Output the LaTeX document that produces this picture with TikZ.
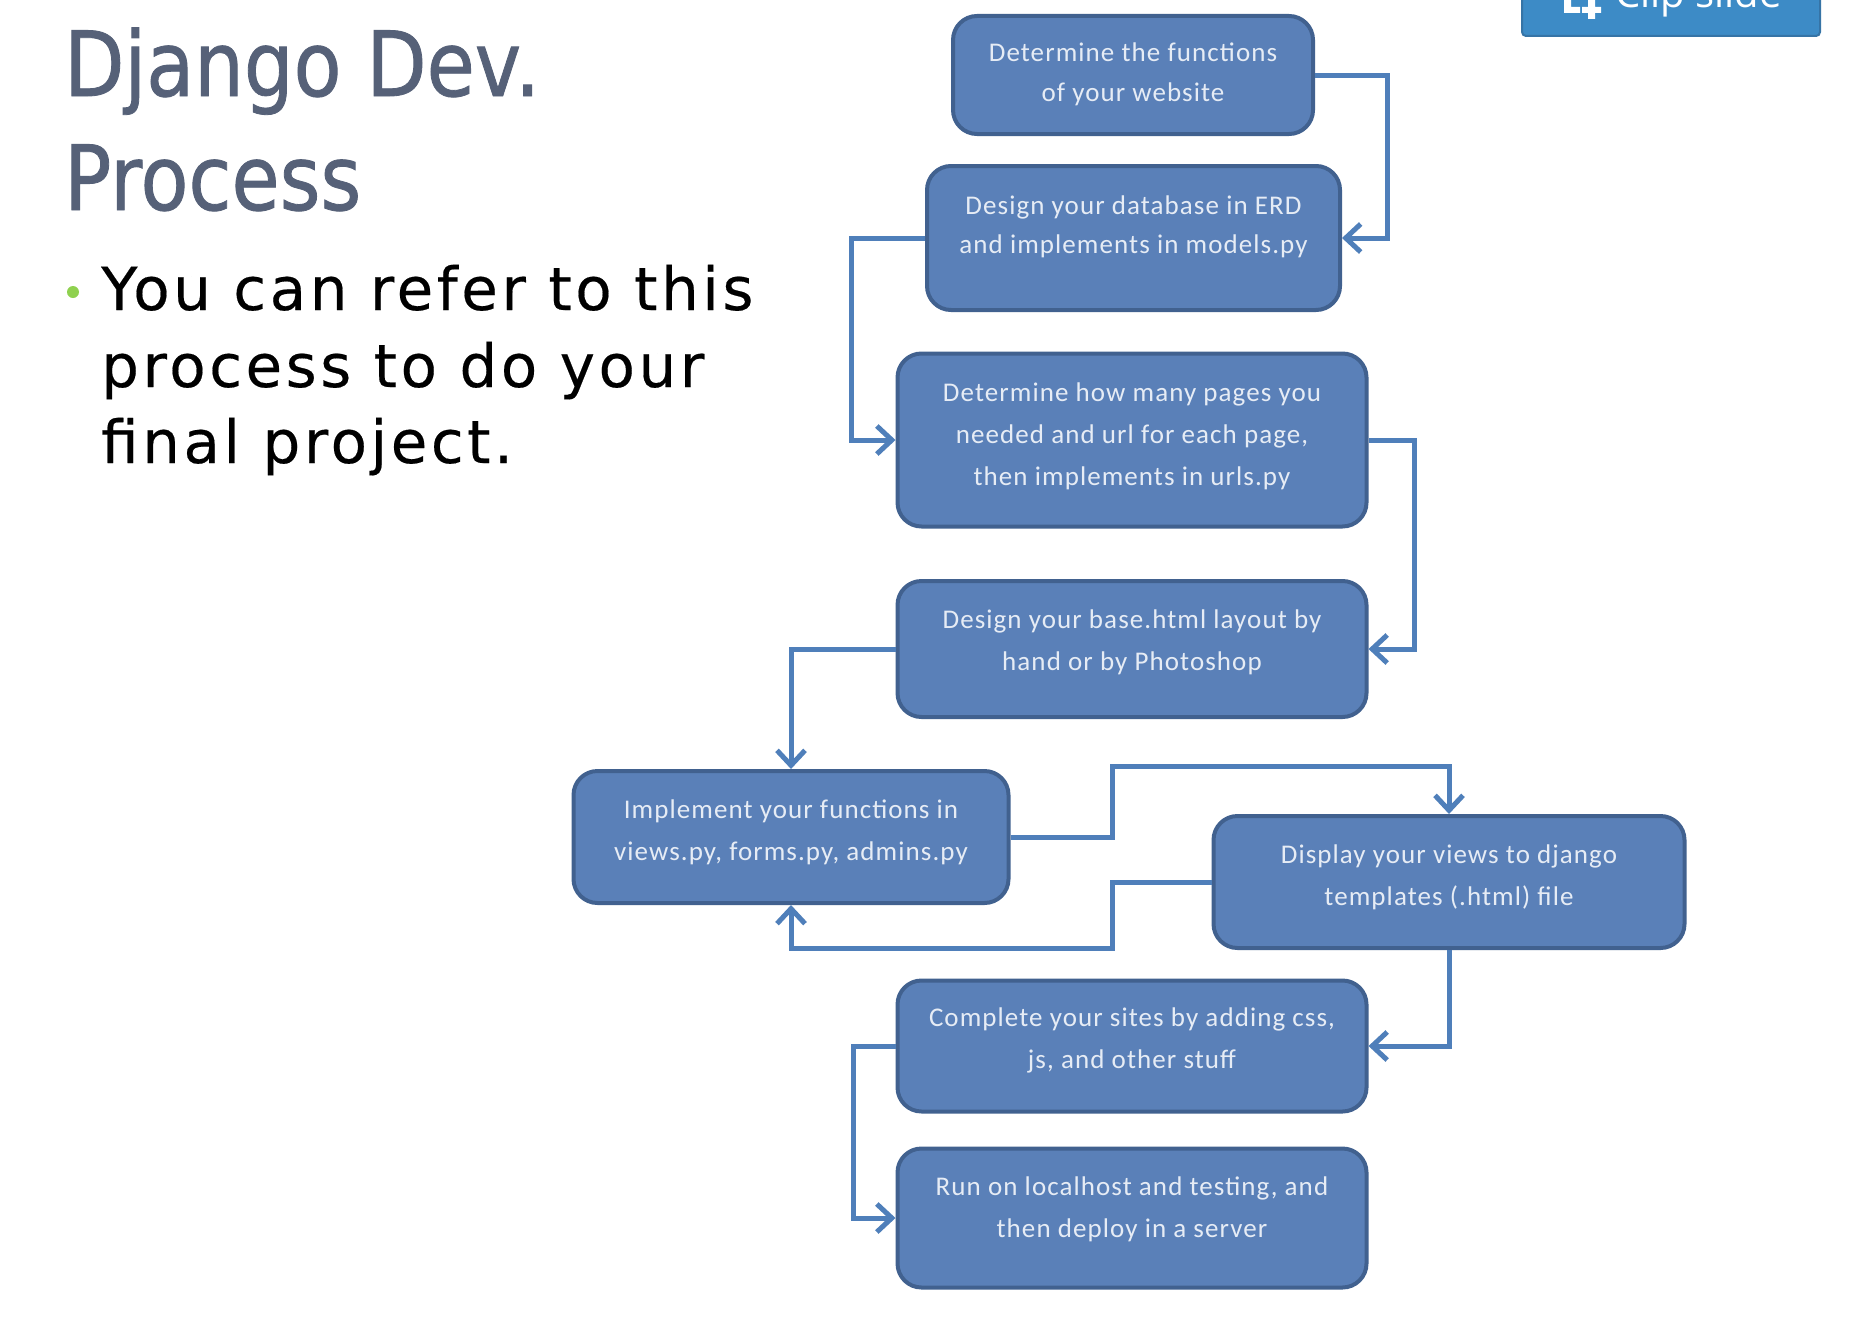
\documentclass[tikz,border=0pt]{standalone}
\usepackage{fontspec}
\setmainfont{Carlito}
\newfontfamily\titlefont[FakeStretch=0.87,FakeBold=0.9]{DejaVu Sans}
\newfontfamily\bodyfont[LetterSpace=6,FakeBold=0.3]{DejaVu Sans}
\newfontfamily\boxfont[LetterSpace=4]{Carlito}
\newfontfamily\btnfont{Open Sans}
\usetikzlibrary{arrows.meta,calc}
\definecolor{boxfill}{HTML}{5A80B8}
\definecolor{boxline}{HTML}{41618F}
\definecolor{connline}{HTML}{4F7FBA}
\definecolor{boxtext}{HTML}{E6ECF5}
\definecolor{titlecol}{HTML}{566178}
\definecolor{bulletcol}{HTML}{8FD14F}
\definecolor{btnfill}{HTML}{3D8BC6}
\definecolor{btnline}{HTML}{3674A6}
\newcommand{\boxlines}[3]{\smash{\raisebox{#1pt}{\fontsize{27}{#2}\selectfont\begin{tabular}[t]{@{}c@{}}#3\end{tabular}}}}
\tikzset{
  flowbox/.style={draw=boxline,line width=4pt,fill=boxfill,rounded corners=24pt,inner sep=0pt,text=boxtext,font=\boxfont,anchor=center},
  conn/.style={draw=connline,line width=5pt,-{Straight Barb[length=15pt,width=28pt,line width=5pt]},rounded corners=0pt},
  big/.style={anchor=base west,inner sep=0pt},
}
\begin{document}
\begin{tikzpicture}[x=1pt,y=-1pt]
\useasboundingbox (0,0) rectangle (1870,1330);
\fill[white] (0,0) rectangle (1870,1330);
% button
\node[draw=btnline,line width=2pt,fill=btnfill,rounded corners=4pt,minimum width=298pt,minimum height=70pt,inner sep=0pt] (btn) at (1671,1) {};
\node[anchor=base west,inner sep=0pt,text=white,font=\btnfont\fontsize{40}{40}\selectfont] (btntext) at (1615,8) {Clip slide};
\fill[white] (1564,-4) rectangle (1571,13) (1564,7) rectangle (1580,13)
  (1588,0) rectangle (1595,19) (1582,7) rectangle (1601,13);
% title
\node[big,text=titlecol,font=\titlefont\fontsize{90}{90}\selectfont] (title1) at (64,96) {Django Dev.};
\node[big,text=titlecol,font=\titlefont\fontsize{90}{90}\selectfont] (title2) at (64,210) {Process};
\node[circle,fill=bulletcol,inner sep=0pt,minimum size=12pt] (bullet) at (73,292) {};
\node[big,font=\bodyfont\fontsize{59.5}{59.5}\selectfont] (body1) at (101,310) {You can refer to this};
\node[big,font=\bodyfont\fontsize{59.5}{59.5}\selectfont] (body2) at (101,387) {process to do your};
\node[big,font=\bodyfont\fontsize{59.5}{59.5}\selectfont] (body3) at (101,463) {final project.};
% boxes
\node[flowbox,minimum width=360pt,minimum height=118pt] (b1) at (1133,75) {\boxlines{13.5}{39.5}{Determine the functions\\of your website}};
\node[flowbox,minimum width=413pt,minimum height=144pt] (b2) at (1133.5,238) {\boxlines{24}{39.5}{Design your database in ERD\\and implements in models.py}};
\node[flowbox,minimum width=469pt,minimum height=173pt] (b3) at (1132,440) {\boxlines{38.6}{42}{Determine how many pages you\\needed and url for each page,\\then implements in urls.py}};
\node[flowbox,minimum width=469pt,minimum height=136pt] (b4) at (1132,649) {\boxlines{21}{42}{Design your base.html layout by\\hand or by Photoshop}};
\node[flowbox,minimum width=435pt,minimum height=132pt] (b5) at (791,837) {\boxlines{18.5}{42}{Implement your functions in\\views.py, forms.py, admins.py}};
\node[flowbox,minimum width=471pt,minimum height=132pt] (b6) at (1449,882) {\boxlines{18.5}{42}{Display your views to django\\templates (.html) file}};
\node[flowbox,minimum width=469pt,minimum height=131pt] (b7) at (1132,1046) {\boxlines{20}{42}{Complete your sites by adding css,\\js, and other stuff}};
\node[flowbox,minimum width=469pt,minimum height=139pt] (b8) at (1132,1218) {\boxlines{23}{42}{Run on localhost and testing, and\\then deploy in a server}};
% routing guides
\coordinate (r12) at (1387,0);
\coordinate (r23) at (851,0);
\coordinate (r34) at (1414,0);
\coordinate (r7) at (853,0);
\coordinate (m) at (1112,0);
\coordinate (top) at (0,766);
\coordinate (bot) at (0,948);
% connectors
\draw[conn] (b1.east) -- (b1.east -| r12) -- (b2.east -| r12) -- (b2.east);
\draw[conn] (b2.west) -- (b2.west -| r23) -- (b3.west -| r23) -- (b3.west);
\draw[conn] (b3.east) -- (b3.east -| r34) -- (b4.east -| r34) -- (b4.east);
\draw[conn] (b4.west) -- (b4.west -| b5.north) -- (b5.north);
\draw[conn] (b5.east) -- (b5.east -| m) -- (m |- top) -- (b6.north |- top) -- (b6.north);
\draw[conn] (b6.west) -- (b6.west -| m) -- (m |- bot) -- (b5.south |- bot) -- (b5.south);
\draw[conn] (b6.south) -- (b6.south |- b7.east) -- (b7.east);
\draw[conn] (b7.west) -- (b7.west -| r7) -- (b8.west -| r7) -- (b8.west);
\end{tikzpicture}
\end{document}
